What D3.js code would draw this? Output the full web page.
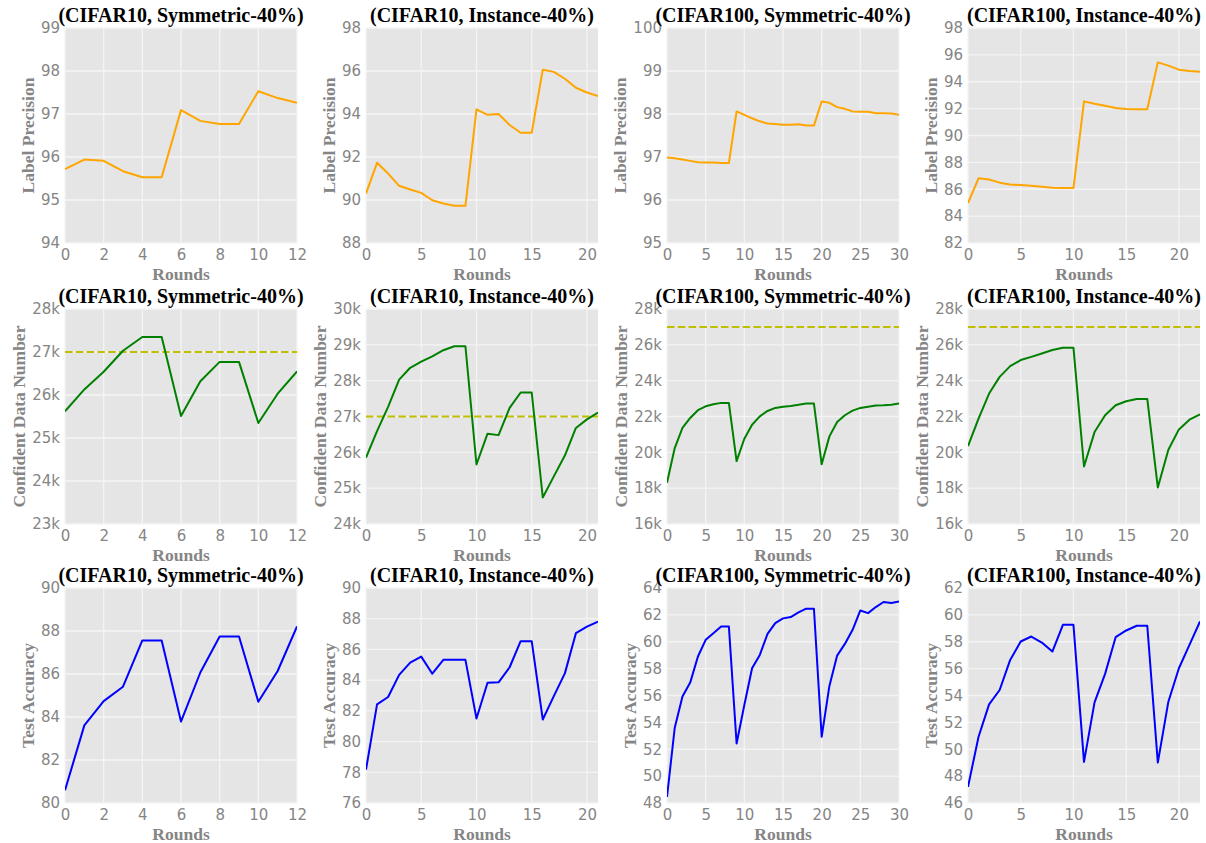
<!DOCTYPE html>
<html>
<head>
<meta charset="utf-8">
<script src="https://cdn.jsdelivr.net/npm/d3@7"></script>
<style>
  html, body { margin: 0; padding: 0; background: #ffffff; }
  svg { display: block; }
</style>
</head>
<body>
<svg id="chart" width="1206" height="843"></svg>
<script>
// ---------------- DATA ----------------
const panelTitles = ["(CIFAR10, Symmetric-40%)", "(CIFAR10, Instance-40%)", "(CIFAR100, Symmetric-40%)", "(CIFAR100, Instance-40%)"];
const roundsMax = [12, 21, 30, 22];
const roundsTickStep = [2, 5, 5, 5];
const rowLabels = ["Label Precision", "Confident Data Number", "Test Accuracy"];
const xLabel = "Rounds";

const precisionDomains = [[94, 99], [88, 98], [95, 100], [82, 98]];
const precisionTickStep = [1, 2, 1, 2];
const confidentDomains = [[23000, 28000], [24000, 30000], [16000, 28000], [16000, 28000]];
const confidentTickStep = [1000, 1000, 2000, 2000];
const accuracyDomains = [[80, 90], [76, 90], [48, 64], [46, 62]];
const accuracyTickStep = [2, 2, 2, 2];
const confidentThreshold = 27000;

// Label precision per round
const precC10Sym = [95.72, 95.94, 95.91, 95.67, 95.53, 95.53, 97.09, 96.84, 96.77, 96.77, 97.53, 97.37, 97.26];
const precC10Inst = [90.30, 91.73, 91.23, 90.66, 90.49, 90.33, 89.99, 89.84, 89.73, 89.73, 94.22, 93.96, 94.00, 93.49, 93.13, 93.13, 96.06, 95.96, 95.64, 95.22, 95.00, 94.83];
const precC100Sym = [96.99, 96.97, 96.94, 96.91, 96.88, 96.87, 96.87, 96.86, 96.86, 98.06, 97.98, 97.90, 97.83, 97.78, 97.77, 97.75, 97.75, 97.76, 97.73, 97.73, 98.29, 98.26, 98.16, 98.12, 98.06, 98.05, 98.05, 98.02, 98.02, 98.01, 97.98];
const precC100Inst = [84.97, 86.81, 86.73, 86.49, 86.36, 86.31, 86.26, 86.19, 86.11, 86.09, 86.09, 92.54, 92.37, 92.22, 92.04, 91.97, 91.95, 91.95, 95.44, 95.20, 94.90, 94.80, 94.75];

// Confident data number per round
const confC10Sym = [25620, 26130, 26540, 27030, 27350, 27350, 25510, 26320, 26770, 26770, 25350, 26030, 26550];
const confC10Inst = [25850, 26590, 27270, 28030, 28360, 28530, 28680, 28850, 28960, 28960, 25660, 26520, 26480, 27240, 27670, 27670, 24740, 25330, 25910, 26680, 26920, 27110];
const confC100Sym = [18300, 20240, 21360, 21920, 22350, 22570, 22680, 22760, 22760, 19510, 20760, 21540, 22010, 22310, 22480, 22550, 22590, 22650, 22720, 22720, 19330, 20890, 21690, 22070, 22330, 22480, 22550, 22610, 22630, 22660, 22720];
const confC100Inst = [20350, 21880, 23280, 24210, 24810, 25150, 25330, 25520, 25710, 25840, 25840, 19210, 21130, 22070, 22630, 22850, 22980, 22980, 18040, 20140, 21280, 21820, 22120];

// Test accuracy per round
const accC10Sym = [80.59, 83.61, 84.74, 85.41, 87.56, 87.56, 83.79, 86.07, 87.74, 87.74, 84.71, 86.14, 88.21];
const accC10Inst = [78.17, 82.42, 82.90, 84.34, 85.14, 85.53, 84.42, 85.32, 85.32, 85.32, 81.50, 83.83, 83.86, 84.84, 86.54, 86.54, 81.44, 82.96, 84.44, 87.06, 87.49, 87.80];
const accC100Sym = [48.45, 53.60, 55.92, 56.96, 58.90, 60.14, 60.64, 61.14, 61.14, 52.43, 55.29, 58.03, 59.02, 60.59, 61.39, 61.74, 61.84, 62.18, 62.46, 62.46, 52.93, 56.71, 58.97, 59.84, 60.89, 62.33, 62.13, 62.58, 62.96, 62.88, 63.00];
const accC100Inst = [47.20, 50.93, 53.34, 54.41, 56.65, 58.02, 58.39, 57.94, 57.27, 59.26, 59.26, 49.06, 53.49, 55.61, 58.34, 58.84, 59.19, 59.19, 49.01, 53.54, 56.03, 57.77, 59.51];

// ---------------- LAYOUT / STYLE ----------------
const colLefts = [65, 366, 667, 968];
const rowTops = [28, 309, 588];
const plotW = 232, plotH = 215;

const rows = [
  { label: rowLabels[0], domains: precisionDomains, steps: precisionTickStep, series: [precC10Sym, precC10Inst, precC100Sym, precC100Inst], color: "#ffa500", fmt: d => d3.format("d")(d), threshold: null },
  { label: rowLabels[1], domains: confidentDomains, steps: confidentTickStep, series: [confC10Sym, confC10Inst, confC100Sym, confC100Inst], color: "#008000", fmt: d => (d / 1000) + "k", threshold: confidentThreshold },
  { label: rowLabels[2], domains: accuracyDomains, steps: accuracyTickStep, series: [accC10Sym, accC10Inst, accC100Sym, accC100Inst], color: "#0000ff", fmt: d => d3.format("d")(d), threshold: null }
];

const svg = d3.select("#chart");
const tickColor = "#858585";
const tickFont = "'DejaVu Sans', sans-serif";
const serif = "'Liberation Serif', 'Times New Roman', serif";

rows.forEach((row, ri) => {
  for (let ci = 0; ci < 4; ci++) {
    const left = colLefts[ci], top = rowTops[ri];
    const g = svg.append("g").attr("transform", `translate(${left},${top})`);
    const x = d3.scaleLinear().domain([0, roundsMax[ci]]).range([0, plotW]);
    const yd = row.domains[ci];
    const y = d3.scaleLinear().domain(yd).range([plotH, 0]);
    const xTicks = d3.range(0, roundsMax[ci] + 0.001, roundsTickStep[ci]);
    const yTicks = d3.range(yd[0], yd[1] + 0.001, row.steps[ci]);

    // background
    g.append("rect").attr("width", plotW).attr("height", plotH).attr("fill", "#e5e5e5");

    // grid
    g.append("g").selectAll("line").data(xTicks).join("line")
      .attr("x1", d => x(d)).attr("x2", d => x(d)).attr("y1", 0).attr("y2", plotH)
      .attr("stroke", "#f4f4f4").attr("stroke-width", 1.3);
    g.append("g").selectAll("line").data(yTicks).join("line")
      .attr("y1", d => y(d)).attr("y2", d => y(d)).attr("x1", 0).attr("x2", plotW)
      .attr("stroke", "#f4f4f4").attr("stroke-width", 1.3);

    // clip
    const clipId = `clip-${ri}-${ci}`;
    g.append("clipPath").attr("id", clipId).append("rect").attr("width", plotW).attr("height", plotH);
    const plot = g.append("g").attr("clip-path", `url(#${clipId})`);

    if (row.threshold !== null) {
      plot.append("line")
        .attr("x1", 0).attr("x2", plotW)
        .attr("y1", y(row.threshold)).attr("y2", y(row.threshold))
        .attr("stroke", "#bfbf00").attr("stroke-width", 2)
        .attr("stroke-dasharray", "7.5,3.3");
    }

    const data = row.series[ci];
    plot.append("path").datum(data)
      .attr("fill", "none").attr("stroke", row.color).attr("stroke-width", 2)
      .attr("stroke-linejoin", "round")
      .attr("d", d3.line().x((d, i) => x(i)).y(d => y(d)));

    // axes
    const xAxis = g.append("g").attr("transform", `translate(0,${plotH})`)
      .call(d3.axisBottom(x).tickValues(xTicks).tickSize(0).tickPadding(3).tickFormat(d3.format("d")));
    const yAxis = g.append("g")
      .call(d3.axisLeft(y).tickValues(yTicks).tickSize(0).tickPadding(5).tickFormat(row.fmt));
    [xAxis, yAxis].forEach(ax => {
      ax.select(".domain").remove();
      ax.selectAll("text").attr("fill", tickColor).style("font-family", tickFont).style("font-size", "15px");
    });
    xAxis.selectAll("text").attr("dy", "0.9em");

    // y label placed left of tick labels
    let minX = 0;
    yAxis.selectAll("text").each(function () {
      const b = this.getBBox();
      minX = Math.min(minX, b.x);
    });
    g.append("text")
      .attr("transform", `translate(${minX - 13},${plotH / 2}) rotate(-90)`)
      .attr("text-anchor", "middle").attr("dy", "0.35em")
      .attr("fill", tickColor).style("font-family", serif).style("font-weight", "bold").style("font-size", "17.5px")
      .text(row.label);

    // x label
    g.append("text")
      .attr("x", plotW / 2).attr("y", plotH + 37)
      .attr("text-anchor", "middle")
      .attr("fill", tickColor).style("font-family", serif).style("font-weight", "bold").style("font-size", "17.5px")
      .text(xLabel);

    // title
    g.append("text")
      .attr("x", plotW / 2).attr("y", -6)
      .attr("text-anchor", "middle")
      .attr("fill", "#000").style("font-family", serif).style("font-weight", "bold").style("font-size", "20px")
      .text(panelTitles[ci]);
  }
});
</script>
</body>
</html>
